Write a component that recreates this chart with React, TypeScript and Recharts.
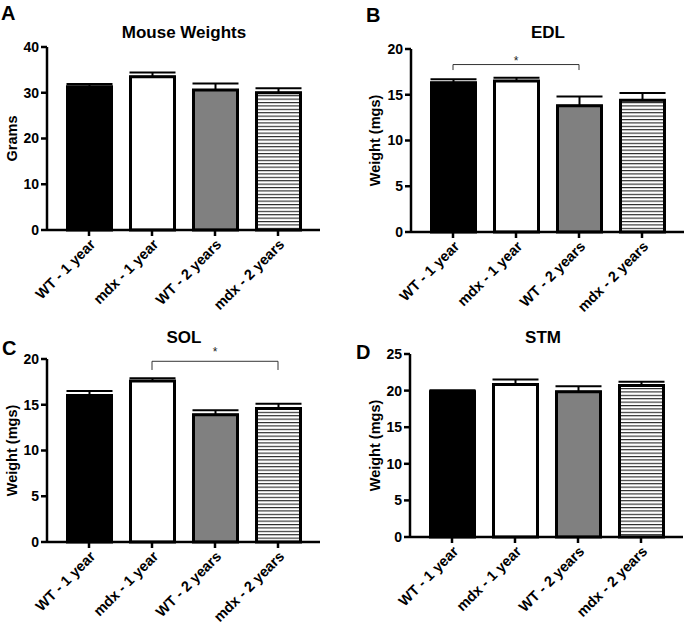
import React from 'react';
import { BarChart, Bar, XAxis, YAxis, ErrorBar, Cell, ReferenceLine, ReferenceDot } from 'recharts';

const categories = ['WT - 1 year', 'mdx - 1 year', 'WT - 2 years', 'mdx - 2 years'];

const mouseMeans = [31.3, 33.5, 30.6, 30.0];
const mouseSem = [0.6, 0.9, 1.4, 1.0];
const mouseTicks = [0, 10, 20, 30, 40];

const edlMeans = [16.3, 16.5, 13.8, 14.4];
const edlSem = [0.4, 0.35, 1.0, 0.8];
const edlTicks = [0, 5, 10, 15, 20];

const solMeans = [16.0, 17.6, 13.9, 14.6];
const solSem = [0.5, 0.3, 0.5, 0.5];
const solTicks = [0, 5, 10, 15, 20];

const stmMeans = [19.85, 20.85, 19.85, 20.7];
const stmSem = [0.2, 0.65, 0.75, 0.5];
const stmTicks = [0, 5, 10, 15, 20, 25];

const FONT = '"Liberation Sans", Arial, Helvetica, sans-serif';

const build = (means: number[], sems: number[]) =>
  categories.map((name, i) => ({ name, value: means[i], err: [0, sems[i]] }));

interface Bracket {
  from: string;
  to: string;
  mid: string;
  y: number;
  drop: number;
  lift: number;
}

interface PanelProps {
  id: string;
  left: number;
  top: number;
  width: number;
  height: number;
  margin: { top: number; right: number; bottom: number; left: number };
  yWidth: number;
  labelX: number;
  yLabel: string;
  ticks: number[];
  means: number[];
  sems: number[];
  bracket?: Bracket;
}

const Panel: React.FC<PanelProps> = (p) => {
  const data = build(p.means, p.sems);
  const max = p.ticks[p.ticks.length - 1];
  const fills = ['#000000', '#ffffff', '#808080', `url(#stripes-${p.id})`];
  const yTickStyle = { fontSize: 14, fontWeight: 700, fill: '#000', fontFamily: FONT };
  const xTickStyle = { fontSize: 14.5, fontWeight: 700, fill: '#000', fontFamily: FONT };
  return (
    <div style={{ position: 'absolute', left: p.left, top: p.top }}>
      <BarChart width={p.width} height={p.height} data={data} margin={p.margin}>
        <defs>
          <pattern id={`stripes-${p.id}`} patternUnits="userSpaceOnUse" width={6} height={3.4}>
            <rect x={0} y={0} width={6} height={3.4} fill="#ffffff" />
            <rect x={0} y={0} width={6} height={1.1} fill="#222222" />
          </pattern>
        </defs>
        <XAxis
          dataKey="name"
          type="category"
          height={80}
          padding={{ left: 10.5, right: 10.5 }}
          axisLine={{ stroke: '#000', strokeWidth: 2.5 }}
          tickLine={{ stroke: '#000', strokeWidth: 2.5 }}
          tickSize={6}
          tick={xTickStyle}
          angle={-45}
          textAnchor="end"
          interval={0}
        />
        <YAxis
          domain={[0, max]}
          ticks={p.ticks}
          width={p.yWidth}
          axisLine={{ stroke: '#000', strokeWidth: 2.5 }}
          tickLine={{ stroke: '#000', strokeWidth: 2.5 }}
          tickSize={6}
          tick={yTickStyle}
          label={{
            value: p.yLabel,
            angle: -90,
            position: 'insideLeft',
            offset: p.labelX,
            style: { textAnchor: 'middle', fontSize: 14.5, fontWeight: 700, fill: '#000', fontFamily: FONT },
          }}
        />
        <Bar dataKey="value" barSize={44} stroke="#000" strokeWidth={3} isAnimationActive={false}>
          {data.map((d, i) => (
            <Cell key={d.name} fill={fills[i]} />
          ))}
          <ErrorBar dataKey="err" direction="y" width={23} stroke="#000" strokeWidth={2} />
        </Bar>
        {p.bracket && (
          <ReferenceLine
            segment={[{ x: p.bracket.from, y: p.bracket.y }, { x: p.bracket.to, y: p.bracket.y }]}
            stroke="#333"
            strokeWidth={1}
          />
        )}
        {p.bracket && (
          <ReferenceLine
            segment={[{ x: p.bracket.from, y: p.bracket.y }, { x: p.bracket.from, y: p.bracket.drop }]}
            stroke="#333"
            strokeWidth={1}
          />
        )}
        {p.bracket && (
          <ReferenceLine
            segment={[{ x: p.bracket.to, y: p.bracket.y }, { x: p.bracket.to, y: p.bracket.drop }]}
            stroke="#333"
            strokeWidth={1}
          />
        )}
        {p.bracket && (
          <ReferenceDot
            x={p.bracket.mid}
            y={p.bracket.y}
            r={0}
            shape={(s: any) => (
              <text
                x={s.cx}
                y={s.cy - (p.bracket ? p.bracket.lift : 0)}
                textAnchor="middle"
                fontSize={12}
                fill="#222"
                fontFamily={FONT}
              >
                *
              </text>
            )}
          />
        )}
      </BarChart>
    </div>
  );
};

const titleStyle: React.CSSProperties = {
  position: 'absolute',
  transform: 'translateX(-50%)',
  fontFamily: FONT,
  fontWeight: 700,
  fontSize: 17,
  lineHeight: 1,
  whiteSpace: 'nowrap',
  color: '#000',
};

const letterStyle: React.CSSProperties = {
  position: 'absolute',
  fontFamily: FONT,
  fontWeight: 700,
  fontSize: 20,
  lineHeight: 1,
  color: '#000',
};

export default function App() {
  return (
    <div style={{ position: 'relative', width: 685, height: 628, background: '#fff', overflow: 'hidden' }}>
      <style>{'body{margin:0;}'}</style>
      <Panel
        id="a"
        left={0}
        top={0}
        width={340}
        height={320}
        margin={{ top: 47, right: 20, bottom: 10, left: 0 }}
        yWidth={47}
        labelX={12}
        yLabel="Grams"
        ticks={mouseTicks}
        means={mouseMeans}
        sems={mouseSem}
      />
      <Panel
        id="b"
        left={340}
        top={0}
        width={345}
        height={320}
        margin={{ top: 49, right: 1, bottom: 8, left: 0 }}
        yWidth={71}
        labelX={35}
        yLabel="Weight (mgs)"
        ticks={edlTicks}
        means={edlMeans}
        sems={edlSem}
        bracket={{ from: categories[0], to: categories[2], mid: categories[1], y: 18.3, drop: 17.7, lift: 0 }}
      />
      <Panel
        id="c"
        left={0}
        top={320}
        width={340}
        height={308}
        margin={{ top: 39, right: 20, bottom: 6, left: 0 }}
        yWidth={47}
        labelX={12}
        yLabel="Weight (mgs)"
        ticks={solTicks}
        means={solMeans}
        sems={solSem}
        bracket={{ from: categories[1], to: categories[3], mid: categories[2], y: 19.75, drop: 18.8, lift: 5 }}
      />
      <Panel
        id="d"
        left={340}
        top={320}
        width={345}
        height={308}
        margin={{ top: 34, right: 2, bottom: 11, left: 0 }}
        yWidth={70}
        labelX={35}
        yLabel="Weight (mgs)"
        ticks={stmTicks}
        means={stmMeans}
        sems={stmSem}
      />
      <div style={{ ...letterStyle, left: 1, top: 3 }}>A</div>
      <div style={{ ...letterStyle, left: 366, top: 5 }}>B</div>
      <div style={{ ...letterStyle, left: 2, top: 338 }}>C</div>
      <div style={{ ...letterStyle, left: 356, top: 342 }}>D</div>
      <div style={{ ...titleStyle, left: 184, top: 24 }}>Mouse Weights</div>
      <div style={{ ...titleStyle, left: 548, top: 24 }}>EDL</div>
      <div style={{ ...titleStyle, left: 184, top: 329 }}>SOL</div>
      <div style={{ ...titleStyle, left: 543, top: 329 }}>STM</div>
    </div>
  );
}
